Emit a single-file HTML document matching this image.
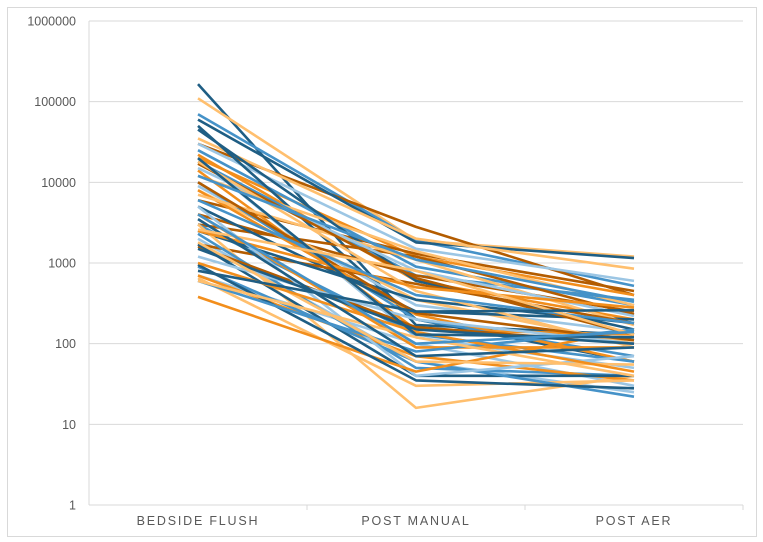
<!DOCTYPE html>
<html><head><meta charset="utf-8"><style>
body{margin:0;background:#fff}
svg{display:block;font-family:"Liberation Sans",sans-serif}
</style></head><body>
<svg id="chart" width="763" height="542">
<rect x="7.5" y="7.5" width="749" height="529" fill="#fff" stroke="#d9d9d9"/>
<g id="grid"></g><g id="series"></g><g id="labels"></g>
</svg>
<script>
const categories=["BEDSIDE FLUSH","POST MANUAL","POST AER"];
const yTicks=[1,10,100,1000,10000,100000,1000000];
const yTickLabels=["1","10","100","1000","10000","100000","1000000"];
const darkBlue=[[165000,170,130],[60000,1800,1150],[50000,200,60],[45000,600,150],[5000,250,200],[2500,350,180],[1700,40,40],[950,35,28],[1500,150,100],[20000,130,120],[3500,70,90],[800,250,260]];
const midBlue=[[70000,1900,520],[25000,900,300],[18000,700,350],[10000,200,70],[3000,130,60],[2300,50,40],[900,60,22],[600,80,150],[6000,400,180],[12000,1100,330],[4000,100,140]];
const lightBlue=[[30000,1500,600],[20000,120,50],[9000,300,140],[2000,60,25],[700,100,30],[15000,800,220],[5000,40,70],[1200,200,100]];
const darkOrange=[[30000,2800,400],[6000,1300,450],[4000,700,250],[3000,1200,230],[1700,550,180],[1600,160,100],[17000,650,130],[10000,240,110]];
const orange=[[20000,1200,400],[22000,600,200],[14000,150,130],[8000,230,60],[4000,90,90],[700,70,35],[380,45,150],[2500,500,280],[1000,140,45]];
const lightOrange=[[110000,1900,1200],[35000,2000,850],[12000,1400,300],[8000,350,100],[7000,1100,170],[3000,16,40],[650,30,35],[18000,450,90],[1800,60,55],[600,120,40],[2600,800,130]];

const X0=89,X1=743,Y0=505,Y1=21;
const NS="http://www.w3.org/2000/svg";
function y(v){return Y0-(Math.log10(v)/6)*(Y0-Y1);}
function x(i){const w=(X1-X0)/categories.length;return X0+w*(i+0.5);}
function mk(t,a,p){const e=document.createElementNS(NS,t);for(const k in a)e.setAttribute(k,a[k]);p.appendChild(e);return e;}
const grid=document.getElementById('grid'),labels=document.getElementById('labels'),ser=document.getElementById('series');
yTicks.forEach((v,i)=>{
  const l=mk('line',{x1:X0,x2:X1,y1:y(v),y2:y(v),stroke:'#d9d9d9','stroke-width':1},grid);
  
  
  const t=mk('text',{x:76,y:y(v)+4.5,'text-anchor':'end','font-size':12.5,fill:'#595959'},labels);
  t.textContent=yTickLabels[i];
  
  
});
const va=mk('line',{x1:X0,x2:X0,y1:Y1,y2:Y0,stroke:'#d9d9d9'},grid);


for(let i=1;i<=categories.length;i++){
  const tk=mk('line',{x1:X0+(X1-X0)/3*i,x2:X0+(X1-X0)/3*i,y1:Y0,y2:Y0+5,stroke:'#d9d9d9'},grid);
  
  
}
categories.forEach((c,i)=>{
  const t=mk('text',{x:x(i),y:525,'text-anchor':'middle','font-size':12.5,fill:'#595959','letter-spacing':'1.8'},labels);
  t.textContent=c;
  
  
});
const groups=[[darkBlue,'#1f5e84'],[lightOrange,'#ffbf6e'],[midBlue,'#4592c8'],[darkOrange,'#b35c00'],[lightBlue,'#9cc6e4'],[orange,'#f28e1c']];
const maxLen=Math.max(...groups.map(g=>g[0].length));
for(let k=0;k<maxLen;k++){
  groups.forEach(([arr,col])=>{
    if(k>=arr.length)return;
    const s=arr[k];
    const pts=s.map((v,i)=>x(i).toFixed(1)+','+y(v).toFixed(1)).join(' ');
    const p=mk('polyline',{points:pts,fill:'none',stroke:col,'stroke-width':2.6,'stroke-linejoin':'round'},ser);
    
    
  });
}
</script>
</body></html>
